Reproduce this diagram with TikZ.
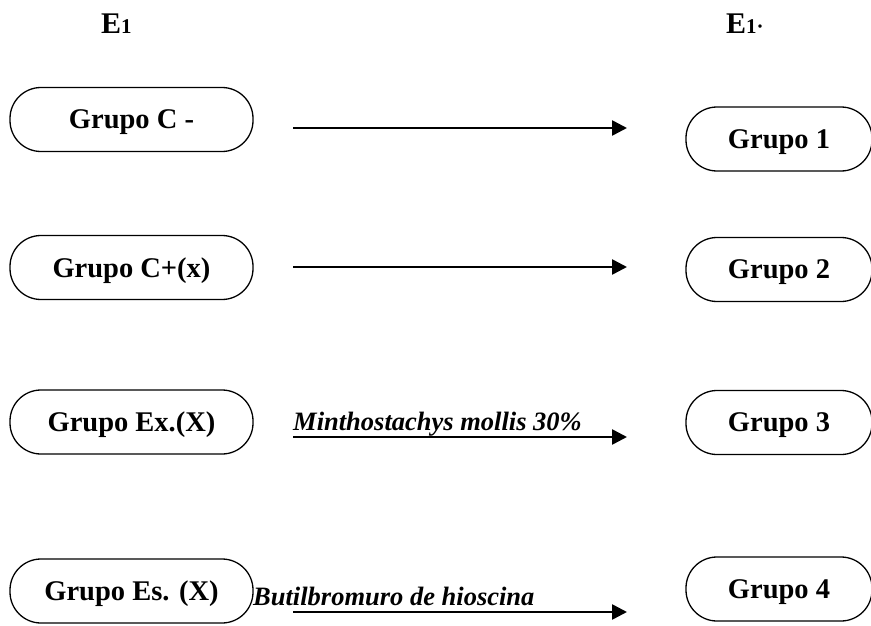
\documentclass[tikz,border=0pt]{standalone}
\usepackage{fontspec}
\setmainfont{Liberation Serif}
\usetikzlibrary{arrows.meta}
\begin{document}
\begin{tikzpicture}[x=1pt,y=-1pt,>={Triangle[length=15pt,width=15pt]},
	grupo/.style={draw,line width=1.3pt,rounded corners=31pt,minimum width=243pt,minimum height=64pt,inner sep=0pt,text depth=0pt,font=\fontsize{28.5}{30}\selectfont\bfseries},
	flecha/.style={->,line width=2.6pt},
	rotulo/.style={anchor=base west,inner sep=0pt,font=\fontsize{26.5}{28}\selectfont\bfseries\itshape}]
	\useasboundingbox (0,0) rectangle (871,626);
	\node[anchor=base west,inner sep=0pt,font=\fontsize{30}{32}\selectfont\bfseries] (e1) at (101,34) {E{\fontsize{21}{21}\selectfont 1}};
	\node[anchor=base west,inner sep=0pt,font=\fontsize{30}{32}\selectfont\bfseries] (e1p) at (726,34) {E{\fontsize{21}{21}\selectfont 1·}};
	% grupos de partida
	\node[grupo] (gcn) at (131.5,119.5) {Grupo C -};
	\node[grupo] (gcp) at (131.5,267.5) {Grupo C+(x)};
	\node[grupo] (gex) at (131.5,422) {Grupo Ex.(X)};
	\node[grupo] (ges) at (131.5,591) {Grupo Es. (X)};
	% grupos finales
	\node[grupo,minimum width=186pt] (g1) at (779,139) {Grupo 1};
	\node[grupo,minimum width=186pt] (g2) at (779,269.5) {Grupo 2};
	\node[grupo,minimum width=186pt] (g3) at (779,422.5) {Grupo 3};
	\node[grupo,minimum width=186pt] (g4) at (779,589) {Grupo 4};
	% flechas
	\coordinate (a1) at (293,128); \coordinate (b1) at (627,128);
	\coordinate (a2) at (293,267); \coordinate (b2) at (627,267);
	\coordinate (a3) at (293,437); \coordinate (b3) at (627,437);
	\coordinate (a4) at (293,612); \coordinate (b4) at (627,612);
	\draw[flecha] (a1)--(b1);
	\draw[flecha] (a2)--(b2);
	\draw[flecha] (a3)--(b3);
	\draw[flecha] (a4)--(b4);
	\node[rotulo] (tm) at (293,430) {Minthostachys mollis 30\%};
	\node[rotulo] (tb) at (253,605) {Butilbromuro de hioscina};
\end{tikzpicture}
\end{document}
